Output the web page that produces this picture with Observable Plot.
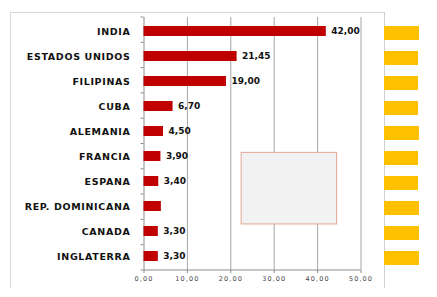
<!DOCTYPE html>
<html>
<head>
<meta charset="utf-8">
<script src="https://cdn.jsdelivr.net/npm/d3@7"></script>
<script src="https://cdn.jsdelivr.net/npm/@observablehq/plot@0.6"></script>
<style>
  html, body { margin: 0; padding: 0; background: #fff; }
  #wrap { position: relative; width: 437px; height: 297px; overflow: hidden; }
  #wrap svg { position: absolute; top: 0; }
  #border { position: absolute; left: 10px; top: 12px; width: 373px; height: 275px;
            border-left: 1px solid #d9d9d9; border-top: 1px solid #d9d9d9; border-right: 1px solid #d0d0d0; }
</style>
</head>
<body>
<div id="wrap"><div id="border"></div></div>
<script>
const categories = ["INDIA", "ESTADOS UNIDOS", "FILIPINAS", "CUBA", "ALEMANIA", "FRANCIA", "ESPANA", "REP. DOMINICANA", "CANADA", "INGLATERRA"];
const values = [42.00, 21.45, 19.00, 6.70, 4.50, 3.90, 3.40, 4.00, 3.30, 3.30];
const valueLabels = ["42,00", "21,45", "19,00", "6,70", "4,50", "3,90", "3,40", "", "3,30", "3,30"];
const xTicks = [0, 10, 20, 30, 40, 50];
const yellowWidths = [35, 34, 34, 34, 35, 34, 34, 35, 35, 35];

const data = categories.map((c, i) => ({cat: c, v: values[i], label: valueLabels[i], yw: yellowWidths[i]}));
const fmt = d => d3.format(".2f")(d).replace(".", ",");

const chart = Plot.plot({
  width: 437, height: 297,
  marginLeft: 143.5, marginRight: 76.5, marginTop: 17, marginBottom: 27,
  style: {fontFamily: "DejaVu Sans", background: "transparent"},
  x: {domain: [0, 50], label: null},
  y: {domain: categories, paddingInner: 0.62, paddingOuter: 0.31, label: null},
  marks: [
    Plot.ruleX(xTicks.slice(1), {stroke: "#a6a6a6", strokeWidth: 1}),
    Plot.ruleX([0], {stroke: "#8c8c8c", strokeWidth: 1}),
    Plot.barX(data, {x: "v", y: "cat", fill: "#c00000"}),
    Plot.text(data, {x: "v", y: "cat", text: "label", dx: 5, textAnchor: "start",
      fontWeight: "bold", fontSize: 9, fill: "#111", style: "letter-spacing:1.3px"}),
    Plot.axisY({tickSize: 0, tickPadding: 13.5, fontWeight: "bold", fontSize: 9.5, fill: "#111"}),
    Plot.axisX({ticks: xTicks, tickFormat: fmt, tickSize: 3, tickPadding: 3, fontSize: 6.5, fill: "#444", stroke: "#8c8c8c"})
  ]
});

const wrap = document.getElementById("wrap");
wrap.appendChild(chart);

// decorations computed from the chart's own scales
const xs = chart.scale("x"), ys = chart.scale("y");
const svg = d3.select(chart);
const yTop = ys.range[0], yBot = ys.range[1];
// bottom axis line
svg.append("line").attr("x1", xs.apply(0)).attr("x2", xs.apply(50))
  .attr("y1", yBot).attr("y2", yBot).attr("stroke", "#8c8c8c");
// category boundary ticks
const bandH = (yBot - yTop) / categories.length;
for (let i = 0; i <= categories.length; i++) {
  const yy = yTop + i * bandH;
  svg.append("line").attr("x1", xs.apply(0) - 3).attr("x2", xs.apply(0))
    .attr("y1", yy).attr("y2", yy).attr("stroke", "#8c8c8c");
}
// empty gray box
const bTop = yTop + 5.35 * bandH, bBot = yTop + 8.18 * bandH;
svg.append("rect").attr("x", xs.apply(22.5)).attr("width", xs.apply(44.5) - xs.apply(22.5))
  .attr("y", bTop).attr("height", bBot - bTop)
  .attr("fill", "#f2f2f2").attr("stroke", "#e6a594").attr("stroke-width", 1);
svg.selectAll("[aria-label='y-axis tick label']").style("letter-spacing", "0.65px");
svg.selectAll("[aria-label='x-axis tick label']").style("letter-spacing", "1.1px");

// truncated yellow bars on the right
const side = Plot.plot({
  width: 53, height: 297,
  marginLeft: 0, marginRight: 0, marginTop: 17, marginBottom: 23,
  x: {domain: [0, 53], axis: null},
  y: {domain: categories, paddingInner: 0.45, paddingOuter: 0.225, axis: null},
  style: {background: "transparent"},
  marks: [Plot.barX(data, {x: "yw", y: "cat", fill: "#ffc000"})]
});
side.style.left = "384px";
wrap.appendChild(side);
</script>
</body>
</html>
